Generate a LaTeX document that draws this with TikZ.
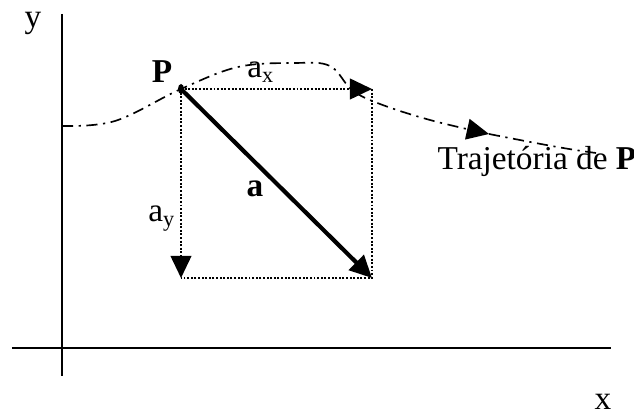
\documentclass[tikz,border=0pt]{standalone}
\usepackage{fontspec}
\setmainfont{Liberation Serif}
\usepackage{tikz}
\usetikzlibrary{arrows.meta,positioning,calc}

\begin{document}
\begin{tikzpicture}[
  x=0.36pt,y=-0.36pt,
  tip/.style={-{Triangle[length=8pt,width=7.5pt]}},
  axis/.style={line width=0.7pt},
  comp/.style={line width=0.7pt,dash pattern=on 0.7pt off 0.6pt},
  path/.style={line width=0.6pt,dash pattern=on 4pt off 2pt on 0.8pt off 2pt},
  lbl/.style={font=\fontsize{12}{14}\selectfont,inner sep=0pt,anchor=base}
]
\useasboundingbox (0,0) rectangle (634,414);
% Axes
\coordinate (yt) at (62,14);
\coordinate (yb) at (62,376);
\coordinate (xl) at (12,348);
\coordinate (xr) at (611,348);
\draw[axis] (yt) -- (yb);
\draw[axis] (xl) -- (xr);
\node[lbl] (ylbl) at (33,28) {y};
\node[lbl] (xlbl) at (603,410) {x};
% Point P and the box
\coordinate (P) at (181,89);
\coordinate (Q) at (372,89);
\coordinate (R) at (372,278);
\coordinate (S) at (181,278);
\draw[comp] (Q) -- (R) -- (S);
\draw[comp,tip] (P) -- (Q);
\draw[comp,tip] (P) -- (S);
\draw[line width=1.5pt,tip] (P) -- (R);
\fill (P) ellipse (1.1pt and 1.8pt);
\node[lbl,font=\fontsize{12}{14}\selectfont\bfseries] (Plbl) at (162,83) {P};
\node[lbl] (axlbl) at (261,78) {a$_\mathrm{x}$};
\node[lbl] (aylbl) at (162,222) {a$_\mathrm{y}$};
\node[lbl,font=\fontsize{12}{14}\selectfont\bfseries] (albl) at (255,197) {a};
% Trajectory
\coordinate (T0) at (62,126);
\coordinate (T1) at (489,134);
\coordinate (T2) at (596,153);
\draw[path,tip] plot[smooth,tension=0.6] coordinates
  {(T0) (115,121) (P) (238,67) (295,63) (330,66) (352,90) (380,104) (430,120) (T1)};
\draw[path] (T1) .. controls (530,142) and (565,149) .. (T2);
\node[lbl,anchor=base west] (traj) at (437,170) {Trajetória de \textbf{P}};
\end{tikzpicture}
\end{document}
